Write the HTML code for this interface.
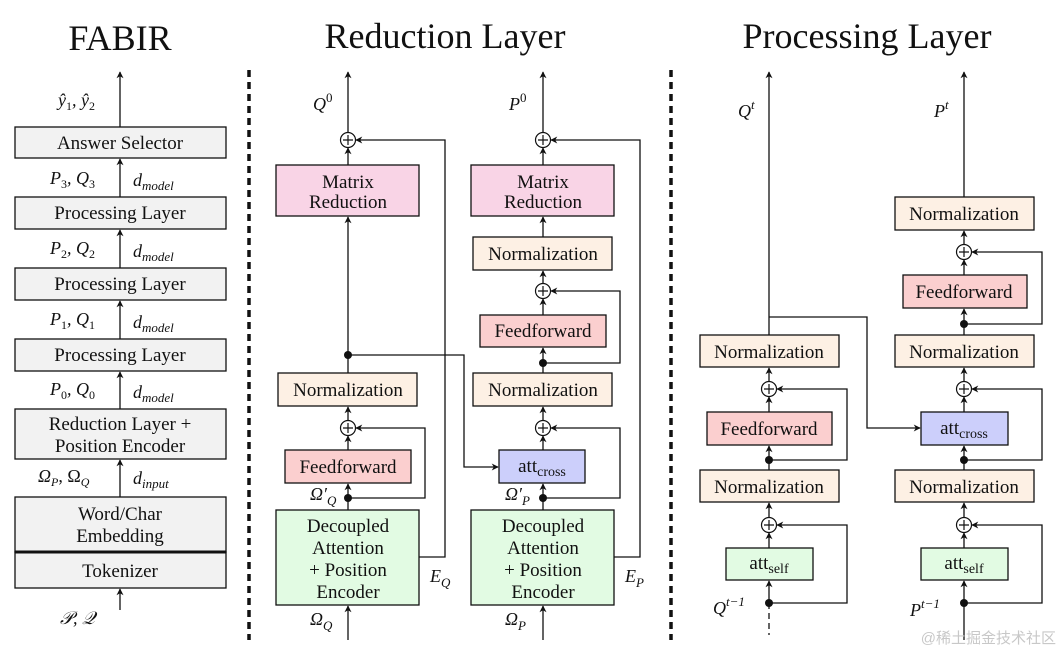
<!DOCTYPE html>
<html><head><meta charset="utf-8"><style>
html,body{margin:0;padding:0;background:#fff;}
svg{display:block;}
text{font-family:"Liberation Serif","DejaVu Serif",serif;fill:#111;}
.t{font-size:19px;text-anchor:middle;}
.m{font-style:italic;font-size:18px;}
.ti{font-size:36px;text-anchor:middle;}
</style></head><body>
<svg width="1062" height="655" viewBox="0 0 1062 655" xmlns="http://www.w3.org/2000/svg">
<defs>
<marker id="a" viewBox="0 0 10 10" refX="9" refY="5" markerWidth="7" markerHeight="7" orient="auto-start-reverse" markerUnits="userSpaceOnUse">
<path d="M0,0 L10,5 L0,10 L3,5 z" fill="#111"/></marker>
</defs>
<g stroke="#111" stroke-width="1.3" fill="none">
<!-- titles dividers -->
<line x1="249" y1="70" x2="249" y2="640" stroke-width="3.5" stroke-dasharray="7,5"/>
<line x1="671" y1="70" x2="671" y2="640" stroke-width="3.5" stroke-dasharray="7,5"/>
</g>
<text class="ti" x="120" y="50">FABIR</text>
<text class="ti" x="445" y="48">Reduction Layer</text>
<text class="ti" x="867" y="48">Processing Layer</text>

<!-- FABIR -->
<g stroke="#111" stroke-width="1.3" fill="#f2f2f2">
<rect x="15" y="127" width="211" height="31"/>
<rect x="15" y="197" width="211" height="32"/>
<rect x="15" y="268" width="211" height="32"/>
<rect x="15" y="339" width="211" height="32"/>
<rect x="15" y="409" width="211" height="50"/>
<rect x="15" y="497" width="211" height="55"/>
<rect x="15" y="552" width="211" height="36"/>
<line x1="15" y1="552" x2="226" y2="552" stroke-width="3"/>
</g>
<g stroke="#111" stroke-width="1.3" marker-end="url(#a)">
<line x1="120" y1="127" x2="120" y2="72"/>
<line x1="120" y1="197" x2="120" y2="159"/>
<line x1="120" y1="268" x2="120" y2="230"/>
<line x1="120" y1="339" x2="120" y2="301"/>
<line x1="120" y1="409" x2="120" y2="372"/>
<line x1="120" y1="497" x2="120" y2="460"/>
<line x1="120" y1="610" x2="120" y2="589"/>
</g>
<text class="t" x="120" y="149">Answer Selector</text>
<text class="t" x="120" y="219">Processing Layer</text>
<text class="t" x="120" y="290">Processing Layer</text>
<text class="t" x="120" y="361">Processing Layer</text>
<text class="t" x="120" y="430">Reduction Layer +</text>
<text class="t" x="120" y="452">Position Encoder</text>
<text class="t" x="120" y="520">Word/Char</text>
<text class="t" x="120" y="542">Embedding</text>
<text class="t" x="120" y="577">Tokenizer</text>
<text class="m" x="58" y="106">ŷ<tspan font-size="12" dy="4" font-style="normal">1</tspan><tspan dy="-4">, ŷ</tspan><tspan font-size="12" dy="4" font-style="normal">2</tspan></text>
<text class="m" x="50" y="184">P<tspan font-size="12" dy="4" font-style="normal">3</tspan><tspan dy="-4">, Q</tspan><tspan font-size="12" dy="4" font-style="normal">3</tspan></text>
<text class="m" x="50" y="254">P<tspan font-size="12" dy="4" font-style="normal">2</tspan><tspan dy="-4">, Q</tspan><tspan font-size="12" dy="4" font-style="normal">2</tspan></text>
<text class="m" x="50" y="325">P<tspan font-size="12" dy="4" font-style="normal">1</tspan><tspan dy="-4">, Q</tspan><tspan font-size="12" dy="4" font-style="normal">1</tspan></text>
<text class="m" x="50" y="395">P<tspan font-size="12" dy="4" font-style="normal">0</tspan><tspan dy="-4">, Q</tspan><tspan font-size="12" dy="4" font-style="normal">0</tspan></text>
<text class="m" x="38" y="482">Ω<tspan font-size="12" dy="4">P</tspan><tspan dy="-4" font-style="normal">, Ω</tspan><tspan font-size="12" dy="4">Q</tspan></text>
<text class="m" x="133" y="186">d<tspan font-size="13" dy="4">model</tspan></text>
<text class="m" x="133" y="257">d<tspan font-size="13" dy="4">model</tspan></text>
<text class="m" x="133" y="328">d<tspan font-size="13" dy="4">model</tspan></text>
<text class="m" x="133" y="398">d<tspan font-size="13" dy="4">model</tspan></text>
<text class="m" x="133" y="484">d<tspan font-size="13" dy="4">input</tspan></text>
<text class="m" x="60" y="624">𝒫, 𝒬</text>

<!-- Reduction layer boxes -->
<g stroke="#111" stroke-width="1.3">
<rect x="276" y="165" width="143" height="51" fill="#f9d4e6"/>
<rect x="278" y="373" width="139" height="33" fill="#fdf0e4"/>
<rect x="285" y="450" width="126" height="33" fill="#fbcfcf"/>
<rect x="276" y="510" width="143" height="95" fill="#e2fbe3"/>
<rect x="471" y="165" width="143" height="51" fill="#f9d4e6"/>
<rect x="473" y="237" width="139" height="33" fill="#fdf0e4"/>
<rect x="480" y="315" width="126" height="32" fill="#fbcfcf"/>
<rect x="473" y="373" width="139" height="33" fill="#fdf0e4"/>
<rect x="499" y="450" width="86" height="33" fill="#cccffb"/>
<rect x="471" y="510" width="143" height="95" fill="#e2fbe3"/>
<!-- processing -->
<rect x="700" y="335" width="139" height="32" fill="#fdf0e4"/>
<rect x="707" y="412" width="125" height="33" fill="#fbcfcf"/>
<rect x="700" y="470" width="139" height="32" fill="#fdf0e4"/>
<rect x="726" y="548" width="87" height="32" fill="#e2fbe3"/>
<rect x="895" y="197" width="139" height="33" fill="#fdf0e4"/>
<rect x="903" y="275" width="124" height="33" fill="#fbcfcf"/>
<rect x="895" y="335" width="139" height="32" fill="#fdf0e4"/>
<rect x="921" y="412" width="87" height="33" fill="#cccffb"/>
<rect x="895" y="470" width="139" height="32" fill="#fdf0e4"/>
<rect x="921" y="548" width="87" height="32" fill="#e2fbe3"/>
</g>
<g class="t">
<text class="t" x="348" y="188">Matrix</text><text class="t" x="348" y="208">Reduction</text>
<text class="t" x="348" y="396">Normalization</text>
<text class="t" x="348" y="473">Feedforward</text>
<text class="t" x="348" y="532">Decoupled</text><text class="t" x="348" y="554">Attention</text><text class="t" x="348" y="576">+ Position</text><text class="t" x="348" y="598">Encoder</text>
<text class="t" x="543" y="188">Matrix</text><text class="t" x="543" y="208">Reduction</text>
<text class="t" x="543" y="260">Normalization</text>
<text class="t" x="543" y="337">Feedforward</text>
<text class="t" x="543" y="396">Normalization</text>
<text class="t" x="542" y="472">att<tspan font-size="14" dy="4">cross</tspan></text>
<text class="t" x="543" y="532">Decoupled</text><text class="t" x="543" y="554">Attention</text><text class="t" x="543" y="576">+ Position</text><text class="t" x="543" y="598">Encoder</text>
<text class="t" x="769" y="358">Normalization</text>
<text class="t" x="769" y="435">Feedforward</text>
<text class="t" x="769" y="493">Normalization</text>
<text class="t" x="769" y="569">att<tspan font-size="14" dy="4">self</tspan></text>
<text class="t" x="964" y="220">Normalization</text>
<text class="t" x="964" y="298">Feedforward</text>
<text class="t" x="964" y="358">Normalization</text>
<text class="t" x="964" y="434">att<tspan font-size="14" dy="4">cross</tspan></text>
<text class="t" x="964" y="493">Normalization</text>
<text class="t" x="964" y="569">att<tspan font-size="14" dy="4">self</tspan></text>
</g>

<!-- plus circles -->
<g stroke="#111" stroke-width="1.2" fill="#fff">
<circle cx="348" cy="140" r="7.5"/><circle cx="348" cy="428" r="7.5"/>
<circle cx="543" cy="140" r="7.5"/><circle cx="543" cy="291" r="7.5"/><circle cx="543" cy="428" r="7.5"/>
<circle cx="769" cy="389" r="7.5"/><circle cx="769" cy="525" r="7.5"/>
<circle cx="964" cy="252" r="7.5"/><circle cx="964" cy="389" r="7.5"/><circle cx="964" cy="525" r="7.5"/>
</g>
<g stroke="#111" stroke-width="1.2">
<path d="M343,140h10M348,135v10 M343,428h10M348,423v10 M538,140h10M543,135v10 M538,291h10M543,286v10 M538,428h10M543,423v10 M764,389h10M769,384v10 M764,525h10M769,520v10 M959,252h10M964,247v10 M959,389h10M964,384v10 M959,525h10M964,520v10"/>
</g>
<!-- dots -->
<g fill="#111">
<circle cx="348" cy="355" r="4"/><circle cx="348" cy="498" r="4"/>
<circle cx="543" cy="363" r="4"/><circle cx="543" cy="498" r="4"/>
<circle cx="769" cy="460" r="4"/><circle cx="769" cy="603" r="4"/>
<circle cx="964" cy="324" r="4"/><circle cx="964" cy="460" r="4"/><circle cx="964" cy="603" r="4"/>
</g>
<!-- connectors -->
<g stroke="#111" stroke-width="1.3" fill="none" marker-end="url(#a)">
<!-- Q reduction -->
<line x1="348" y1="132" x2="348" y2="72"/>
<line x1="348" y1="165" x2="348" y2="148"/>
<line x1="348" y1="373" x2="348" y2="217"/>
<line x1="348" y1="450" x2="348" y2="436"/>
<line x1="348" y1="420" x2="348" y2="407"/>
<line x1="348" y1="510" x2="348" y2="484"/>
<line x1="348" y1="640" x2="348" y2="606"/>
<path d="M419,557H445V140H356"/>
<path d="M348,498H425V428H356"/>
<path d="M348,355H464V467H498"/>
<!-- P reduction -->
<line x1="543" y1="132" x2="543" y2="72"/>
<line x1="543" y1="165" x2="543" y2="148"/>
<line x1="543" y1="237" x2="543" y2="217"/>
<line x1="543" y1="283" x2="543" y2="271"/>
<line x1="543" y1="315" x2="543" y2="299"/>
<line x1="543" y1="373" x2="543" y2="348"/>
<line x1="543" y1="420" x2="543" y2="407"/>
<line x1="543" y1="450" x2="543" y2="436"/>
<line x1="543" y1="510" x2="543" y2="484"/>
<line x1="543" y1="640" x2="543" y2="606"/>
<path d="M614,557H640V140H551"/>
<path d="M543,363H620V291H551"/>
<path d="M543,498H620V428H551"/>
<!-- Processing Q -->
<line x1="769" y1="335" x2="769" y2="72"/>
<line x1="769" y1="381" x2="769" y2="368"/>
<line x1="769" y1="412" x2="769" y2="397"/>
<line x1="769" y1="470" x2="769" y2="446"/>
<line x1="769" y1="517" x2="769" y2="503"/>
<line x1="769" y1="548" x2="769" y2="533"/>
<line x1="769" y1="603" x2="769" y2="581"/>
<path d="M769,460H847V389H777"/>
<path d="M769,603H847V525H777"/>
<path d="M769,317H867V428H920"/>
<!-- Processing P -->
<line x1="964" y1="197" x2="964" y2="72"/>
<line x1="964" y1="244" x2="964" y2="231"/>
<line x1="964" y1="275" x2="964" y2="260"/>
<line x1="964" y1="335" x2="964" y2="309"/>
<line x1="964" y1="381" x2="964" y2="368"/>
<line x1="964" y1="412" x2="964" y2="397"/>
<line x1="964" y1="470" x2="964" y2="446"/>
<line x1="964" y1="517" x2="964" y2="503"/>
<line x1="964" y1="548" x2="964" y2="533"/>
<line x1="964" y1="603" x2="964" y2="581"/>
<path d="M964,324H1042V252H972"/>
<path d="M964,460H1042V389H972"/>
<path d="M964,603H1042V525H972"/>
</g>
<g stroke="#111" stroke-width="1.3">
<line x1="769" y1="603" x2="769" y2="635" stroke-dasharray="6,4"/>
<line x1="964" y1="603" x2="964" y2="640"/>
</g>
<!-- math labels -->
<text class="m" x="313" y="110">Q<tspan font-size="13" dy="-8" font-style="normal">0</tspan></text>
<text class="m" x="509" y="110">P<tspan font-size="13" dy="-8" font-style="normal">0</tspan></text>
<text class="m" x="310" y="500">Ω′<tspan font-size="13" dy="5">Q</tspan></text>
<text class="m" x="505" y="500">Ω′<tspan font-size="13" dy="5">P</tspan></text>
<text class="m" x="310" y="625">Ω<tspan font-size="13" dy="5">Q</tspan></text>
<text class="m" x="505" y="625">Ω<tspan font-size="13" dy="5">P</tspan></text>
<text class="m" x="430" y="582">E<tspan font-size="13" dy="5">Q</tspan></text>
<text class="m" x="625" y="582">E<tspan font-size="13" dy="5">P</tspan></text>
<text class="m" x="738" y="117">Q<tspan font-size="13" dy="-8">t</tspan></text>
<text class="m" x="934" y="117">P<tspan font-size="13" dy="-8">t</tspan></text>
<text class="m" x="713" y="614">Q<tspan font-size="13" dy="-8">t−1</tspan></text>
<text class="m" x="910" y="616">P<tspan font-size="13" dy="-8">t−1</tspan></text>
<text x="1056" y="643" text-anchor="end" style="font-family:'Liberation Sans','Noto Sans CJK SC',sans-serif;font-size:15px;fill:#c8c8c8;">@稀土掘金技术社区</text>
</svg>
</body></html>
